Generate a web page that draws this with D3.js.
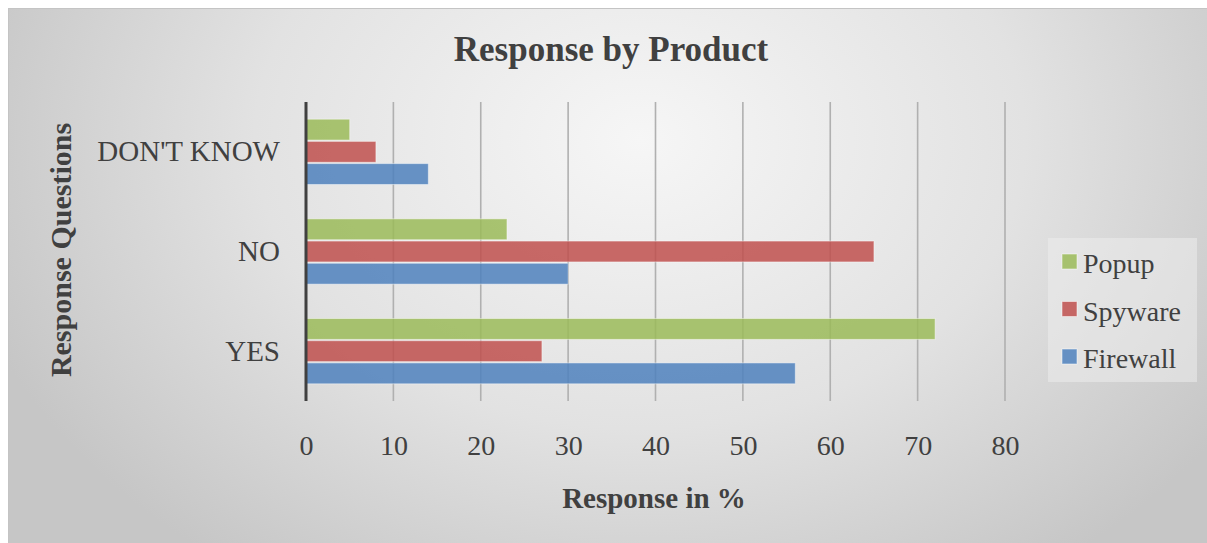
<!DOCTYPE html>
<html>
<head>
<meta charset="utf-8">
<script src="https://cdn.jsdelivr.net/npm/d3@7"></script>
<style>
  html, body { margin: 0; padding: 0; background: #fff; }
  svg { display: block; font-family: "Liberation Serif", "Times New Roman", serif; }
</style>
</head>
<body>
<div id="chart"></div>
<script>
// chart data
const categories = ["DON'T KNOW", "NO", "YES"];
const seriesNames = ["Popup", "Spyware", "Firewall"];
const popup = [5, 23, 72];
const spyware = [8, 65, 27];
const firewall = [14, 30, 56];
const xTicks = [0, 10, 20, 30, 40, 50, 60, 70, 80];

const seriesValues = { Popup: popup, Spyware: spyware, Firewall: firewall };
const colors = { Popup: "#9bbb59", Spyware: "#c0504d", Firewall: "#4f81bd" };

var width = 1207, height = 543;
var plot = {left: 306, right: 1005, top: 102, bottom: 401};
var textColor = "#404040";
var serif = "'Liberation Serif', 'Times New Roman', serif";

var svg = d3.select("#chart")
    .append("svg")
    .attr("width", width)
    .attr("height", height);

// background gradient
var defs = svg.append("defs");
var grad = defs.append("radialGradient")
    .attr("id", "bg")
    .attr("gradientUnits", "userSpaceOnUse")
    .attr("cx", 640).attr("cy", 140).attr("r", 700)
    .attr("gradientTransform", "translate(640,140) scale(1,0.75) translate(-640,-140)");
grad.append("stop").attr("offset", "0%").attr("stop-color", "#f6f6f6");
grad.append("stop").attr("offset", "55%").attr("stop-color", "#e2e2e2");
grad.append("stop").attr("offset", "100%").attr("stop-color", "#c6c6c6");

svg.append("rect")
    .attr("x", 8.5).attr("y", 8.5)
    .attr("width", width - 8).attr("height", height - 8)
    .attr("fill", "url(#bg)")
    .attr("stroke", "#c4c4c4");

// scales
var x = d3.scaleLinear()
    .domain([0, 80])
    .range([plot.left, plot.right]);

var y = d3.scaleBand()
    .domain(categories)
    .range([plot.top, plot.bottom])
    .paddingInner(0.345)
    .paddingOuter(0.1725);

var ySub = d3.scaleBand()
    .domain(seriesNames)
    .range([0, y.bandwidth()])
    .paddingInner(0.06);

// gridlines
svg.append("g")
    .selectAll("line")
    .data(xTicks.filter(d => d > 0))
    .enter()
    .append("line")
    .attr("x1", d => x(d)).attr("x2", d => x(d))
    .attr("y1", plot.top).attr("y2", plot.bottom)
    .attr("stroke", "#b0b0b0")
    .attr("stroke-width", 1.6);

// bars
var groups = svg.append("g")
    .selectAll("g")
    .data(categories)
    .enter()
    .append("g")
    .attr("transform", d => "translate(0," + y(d) + ")");

groups.selectAll("rect")
    .data((c, i) => seriesNames.map(s => ({series: s, value: seriesValues[s][i]})))
    .enter()
    .append("rect")
    .attr("x", x(0))
    .attr("y", d => ySub(d.series))
    .attr("width", d => x(d.value) - x(0))
    .attr("height", ySub.bandwidth())
    .attr("fill", d => colors[d.series])
    .attr("fill-opacity", 0.85)
    .attr("stroke", "rgba(255,255,255,0.45)")
    .attr("stroke-width", 1);

// y axis line
svg.append("line")
    .attr("x1", x(0)).attr("x2", x(0))
    .attr("y1", plot.top).attr("y2", plot.bottom)
    .attr("stroke", "#404040")
    .attr("stroke-width", 3);

// x axis tick labels
var xAxis = svg.append("g")
    .attr("transform", "translate(0," + plot.bottom + ")")
    .call(d3.axisBottom(x).tickValues(xTicks).tickSize(0).tickPadding(0));
xAxis.select(".domain").remove();
xAxis.attr("font-family", null).attr("font-size", null);
xAxis.selectAll("text")
    .attr("dy", null)
    .attr("y", 54)
    .style("font-family", serif)
    .style("font-size", "28px")
    .attr("fill", textColor);

// y axis category labels
var yAxis = svg.append("g")
    .attr("transform", "translate(" + (x(0) - 26) + ",0)")
    .call(d3.axisLeft(y).tickSize(0).tickPadding(0));
yAxis.select(".domain").remove();
yAxis.attr("font-family", null).attr("font-size", null);
yAxis.selectAll("text")
    .attr("dy", "0.33em")
    .style("font-family", serif)
    .style("font-size", "29px")
    .attr("fill", textColor);

// title
svg.append("text")
    .attr("x", 611).attr("y", 61)
    .attr("text-anchor", "middle")
    .style("font-family", serif)
    .attr("font-size", 35)
    .attr("font-weight", "bold")
    .attr("fill", textColor)
    .text("Response by Product");

// x axis title
svg.append("text")
    .attr("x", 654).attr("y", 508)
    .attr("text-anchor", "middle")
    .style("font-family", serif)
    .attr("font-size", 29)
    .attr("font-weight", "bold")
    .attr("fill", textColor)
    .text("Response in %");

// y axis title
svg.append("text")
    .attr("transform", "translate(71,250) rotate(-90)")
    .attr("text-anchor", "middle")
    .style("font-family", serif)
    .attr("font-size", 30)
    .attr("font-weight", "bold")
    .attr("fill", textColor)
    .text("Response Questions");

// legend
var legend = svg.append("g");
legend.append("rect")
    .attr("x", 1048).attr("y", 238)
    .attr("width", 149).attr("height", 144)
    .attr("fill", "#ececec")
    .attr("fill-opacity", 0.55);

var items = legend.selectAll("g.item")
    .data(seriesNames)
    .enter()
    .append("g")
    .attr("class", "item")
    .attr("transform", (d, i) => "translate(1062," + (273 + i * 47.5) + ")");

items.append("rect")
    .attr("x", 0).attr("y", -19)
    .attr("width", 15).attr("height", 15)
    .attr("fill", d => colors[d])
    .attr("fill-opacity", 0.85)
    .attr("stroke", "rgba(255,255,255,0.5)");

items.append("text")
    .attr("x", 21).attr("y", 0)
    .style("font-family", serif)
    .attr("font-size", 28)
    .attr("fill", textColor)
    .text(d => d);
</script>
</body>
</html>
